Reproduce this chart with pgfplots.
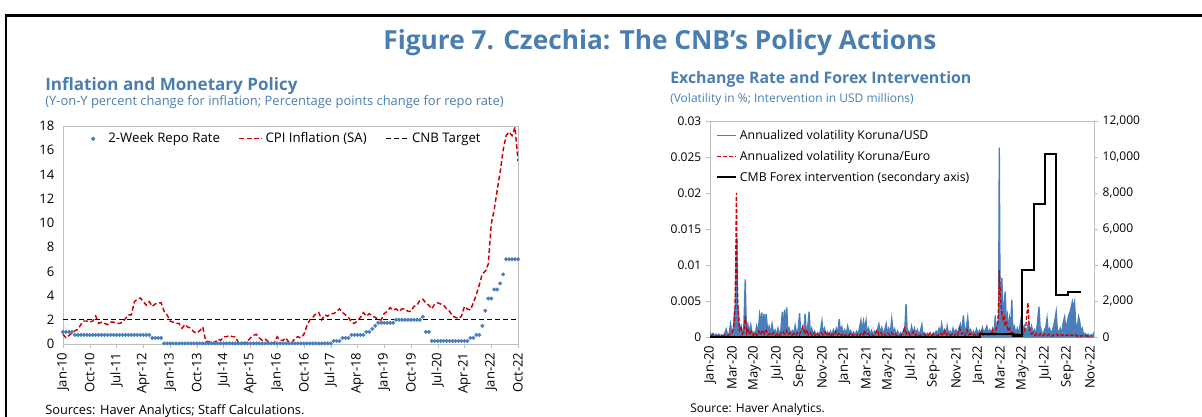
\documentclass[border=0pt]{standalone}
\usepackage{fontspec}
\setmainfont{Open Sans}
\usepackage{pgfplots}
\usepackage{pgfplotstable}
\pgfplotsset{compat=1.18}
\definecolor{tblue}{RGB}{74,126,176}
\definecolor{sblue}{RGB}{74,126,187}
\definecolor{sred}{RGB}{204,0,0}
\definecolor{agray}{RGB}{191,191,191}

\pgfplotstableread[row sep=\\]{y\\
0.8\\0.5\\0.7\\0.9\\1.1\\1.2\\1.6\\1.9\\1.9\\1.8\\1.9\\2.3\\
1.7\\1.8\\1.7\\1.6\\1.8\\1.8\\1.7\\1.7\\1.8\\2.1\\2.4\\2.4\\
3.5\\3.7\\3.8\\3.5\\3.2\\3.5\\3.1\\3.3\\3.4\\3.4\\2.7\\2.4\\
1.9\\1.8\\1.7\\1.7\\1.3\\1.6\\1.4\\1.3\\1.0\\0.9\\1.1\\1.4\\
0.2\\0.2\\0.2\\0.1\\0.4\\0.3\\0.6\\0.6\\0.7\\0.6\\0.6\\0.1\\
0.1\\0.1\\0.2\\0.5\\0.7\\0.8\\0.5\\0.3\\0.4\\0.2\\0.1\\0.1\\
0.6\\0.3\\0.3\\0.5\\0.1\\0.1\\0.5\\0.6\\0.5\\0.8\\1.5\\2.0\\
2.2\\2.5\\2.6\\2.0\\2.4\\2.3\\2.5\\2.5\\2.7\\2.9\\2.6\\2.4\\
2.2\\1.8\\1.7\\1.9\\2.2\\2.6\\2.3\\2.5\\2.3\\2.2\\2.0\\2.0\\
2.5\\2.7\\3.0\\2.8\\2.9\\2.7\\2.9\\2.9\\2.7\\2.7\\3.1\\3.2\\
3.6\\3.7\\3.4\\3.2\\2.9\\3.3\\3.4\\3.3\\3.2\\2.9\\2.7\\2.3\\
2.2\\2.1\\2.3\\3.1\\2.9\\2.8\\3.4\\4.1\\4.9\\5.8\\6.0\\6.6\\
9.9\\11.1\\12.7\\14.2\\16.0\\17.2\\17.5\\17.2\\17.9\\15.1\\
}\cpidata

\pgfplotstableread[row sep=\\]{y\\
1\\1\\1\\1\\0.75\\0.75\\0.75\\0.75\\0.75\\0.75\\0.75\\0.75\\
0.75\\0.75\\0.75\\0.75\\0.75\\0.75\\0.75\\0.75\\0.75\\0.75\\0.75\\0.75\\
0.75\\0.75\\0.75\\0.75\\0.75\\0.75\\0.5\\0.5\\0.5\\0.5\\0.05\\0.05\\
0.05\\0.05\\0.05\\0.05\\0.05\\0.05\\0.05\\0.05\\0.05\\0.05\\0.05\\0.05\\
0.05\\0.05\\0.05\\0.05\\0.05\\0.05\\0.05\\0.05\\0.05\\0.05\\0.05\\0.05\\
0.05\\0.05\\0.05\\0.05\\0.05\\0.05\\0.05\\0.05\\0.05\\0.05\\0.05\\0.05\\
0.05\\0.05\\0.05\\0.05\\0.05\\0.05\\0.05\\0.05\\0.05\\0.05\\0.05\\0.05\\
0.05\\0.05\\0.05\\0.05\\0.05\\0.05\\0.05\\0.25\\0.25\\0.25\\0.5\\0.5\\
0.5\\0.75\\0.75\\0.75\\0.75\\0.75\\1.0\\1.0\\1.25\\1.5\\1.75\\1.75\\
1.75\\1.75\\1.75\\1.75\\2.0\\2.0\\2.0\\2.0\\2.0\\2.0\\2.0\\2.0\\
2.0\\2.25\\1.0\\1.0\\0.25\\0.25\\0.25\\0.25\\0.25\\0.25\\0.25\\0.25\\
0.25\\0.25\\0.25\\0.25\\0.25\\0.5\\0.5\\0.75\\0.75\\1.5\\2.75\\3.75\\
3.75\\4.5\\4.5\\5.0\\5.75\\7\\7\\7\\7\\7\\
}\repodata

\begin{document}
\begin{tikzpicture}
\useasboundingbox (0,0) rectangle (901.5pt,-312.75pt);
% frame
\draw[line width=1.8pt] (3.9pt,-11.6pt) -- (905pt,-11.6pt);
\draw[line width=1.8pt] (4.3pt,-11.6pt) -- (4.3pt,-320pt);
% main title
\node[anchor=base, text=tblue, font=\fontsize{19.7}{23}\selectfont\bfseries] at (495pt,-37.5pt) {Figure 7. Czechia: The CNB’s Policy Actions};
% left titles
\node[anchor=base west, inner sep=0pt, text=tblue, font=\fontsize{12.8}{15}\selectfont\bfseries] at (33.75pt,-68.25pt) {Inflation and Monetary Policy};
\node[anchor=base west, inner sep=0pt, text=tblue, font=\fontsize{9.7}{11}\selectfont] at (33.75pt,-79.5pt) {(Y-on-Y percent change for inflation; Percentage points change for repo rate)};
% right titles
\node[anchor=base west, inner sep=0pt, text=tblue, font=\fontsize{11.9}{14}\selectfont\bfseries] at (502.5pt,-63pt) {Exchange Rate and Forex Intervention};
\node[anchor=base west, inner sep=0pt, text=tblue, font=\fontsize{9}{11}\selectfont] at (502.5pt,-77.25pt) {(Volatility in \%; Intervention in USD millions)};
% sources
\node[anchor=base west, inner sep=0pt, font=\fontsize{9.6}{11}\selectfont] at (33.75pt,-310.5pt) {Sources: Haver Analytics; Staff Calculations.};
\node[anchor=base west, inner sep=0pt, font=\fontsize{9}{11}\selectfont] at (517.5pt,-309pt) {Source: Haver Analytics.};

% ---------------- left chart
\begin{axis}[
  at={(47.25pt,-258pt)}, anchor=south west, scale only axis,
  width=341.25pt, height=163.5pt,
  xmin=0, xmax=153, ymin=0, ymax=18,
  ytick={0,2,4,6,8,10,12,14,16,18},
  xtick={0,9,18,27,36,45,54,63,72,81,90,99,108,117,126,135,144,153},
  xticklabels={Jan-10,Oct-10,Jul-11,Apr-12,Jan-13,Oct-13,Jul-14,Apr-15,Jan-16,Oct-16,Jul-17,Apr-18,Jan-19,Oct-19,Jul-20,Apr-21,Jan-22,Oct-22},
  x tick label style={rotate=90, anchor=east, font=\fontsize{9.8}{11}\selectfont},
  y tick label style={font=\fontsize{9.8}{11}\selectfont},
  /pgf/number format/assume math mode=true,
  axis line style={agray}, tick style={agray}, tick align=outside,
  xtick pos=left, ytick pos=left, ytick style={draw=none}, major tick length=3pt,
  legend style={at={(0.49,0.995)}, anchor=north, draw=none, fill=none,
    font=\fontsize{9.9}{12}\selectfont,
    /tikz/every even column/.append style={column sep=12pt}},
  legend columns=3, legend cell align=left,
]
\addplot[only marks, mark=*, mark size=1.3pt, sblue,
  legend image code/.code={\path[draw=none, fill=none] (0cm,-0.05cm) rectangle (0.45cm,0.05cm); \fill[sblue] (0.12cm,0cm) circle (1.4pt);}] table[x expr=\coordindex, y=y] {\repodata};
\addlegendentry{2-Week Repo Rate}
\addplot[sred, line width=1.1pt, dash pattern=on 3.5pt off 2pt] table[x expr=\coordindex, y=y] {\cpidata};
\addlegendentry{CPI Inflation (SA)}
\addplot[black, line width=1.0pt, dash pattern=on 4pt off 2pt] coordinates {(0,2) (153,2)};
\addlegendentry{CNB Target}
\end{axis}

% ---------------- right chart
\begin{axis}[
  at={(532.5pt,-252.75pt)}, anchor=south west, scale only axis,
  width=288pt, height=162pt,
  xmin=0, xmax=1046, ymin=0, ymax=0.03,
  ytick={0,0.005,0.01,0.015,0.02,0.025,0.03},
  scaled y ticks=false,
  yticklabel style={/pgf/number format/fixed, /pgf/number format/precision=3},
  xtick={0,60,121,182,244,305,366,425,486,547,609,670,731,790,851,912,974,1035},
  xticklabels={Jan-20,Mar-20,May-20,Jul-20,Sep-20,Nov-20,Jan-21,Mar-21,May-21,Jul-21,Sep-21,Nov-21,Jan-22,Mar-22,May-22,Jul-22,Sep-22,Nov-22},
  x tick label style={rotate=90, anchor=east, font=\fontsize{9.8}{11}\selectfont},
  y tick label style={font=\fontsize{9}{11}\selectfont},
  /pgf/number format/assume math mode=true,
  axis line style={agray}, tick style={agray}, tick align=outside,
  xtick pos=left, ytick pos=left, xtick style={draw=none}, major tick length=3pt,
  legend image code/.code={\draw[#1] (0cm,0cm) -- (0.5cm,0cm);},
  legend style={at={(0.005,0.985)}, anchor=north west, draw=none, fill=none,
    font=\fontsize{9.2}{11}\selectfont, row sep=3.2pt},
  legend cell align=left,
]
\addplot[sblue, line width=1.0pt, fill=sblue,
  legend image code/.code={\draw[sblue, line width=1pt] (0cm,0cm) -- (0.5cm,0cm);}] coordinates {
(0,0.0006) (4,0.0002) (8,0.0005) (12,0.0002) (16,0.0004) (20,0.0001) (24,0.0004) (28,0.0002) (32,0.0003) (36,0.0001)
(40,0.0005) (44,0.0011) (48,0.0003) (52,0.0005) (56,0.0018) (60,0.0004) (64,0.0012) (67,0.0040) (69,0.0030) (71,0.0100)
(73,0.0138) (75,0.0045) (77,0.0040) (79,0.0020) (82,0.0010) (85,0.0015) (88,0.0005) (92,0.0012) (96,0.0080) (99,0.0010)
(103,0.0018) (107,0.0006) (111,0.0017) (115,0.0004) (119,0.0007) (123,0.0003) (127,0.0015) (131,0.0005) (135,0.0031) (138,0.0020)
(141,0.0034) (144,0.0012) (147,0.0032) (150,0.0018) (153,0.0032) (157,0.0008) (161,0.0015) (165,0.0004) (169,0.0018) (173,0.0006)
(177,0.0010) (181,0.0003) (185,0.0012) (189,0.0004) (193,0.0010) (197,0.0035) (200,0.0010) (203,0.0038) (206,0.0015) (209,0.0041)
(212,0.0008) (216,0.0012) (220,0.0003) (224,0.0009) (228,0.0005) (232,0.0016) (236,0.0004) (240,0.0011) (244,0.0033) (247,0.0006)
(251,0.0010) (255,0.0003) (259,0.0032) (262,0.0008) (266,0.0014) (270,0.0035) (273,0.0006) (277,0.0012) (281,0.0004) (285,0.0008)
(289,0.0002) (293,0.0006) (297,0.0003) (301,0.0009) (305,0.0022) (308,0.0005) (312,0.0012) (316,0.0003) (320,0.0007) (324,0.0002)
(328,0.0008) (332,0.0003) (336,0.0010) (340,0.0004) (344,0.0012) (348,0.0006) (352,0.0025) (355,0.0008) (359,0.0014) (363,0.0004)
(367,0.0010) (371,0.0003) (375,0.0015) (379,0.0006) (383,0.0009) (387,0.0003) (391,0.0007) (395,0.0002) (399,0.0008) (403,0.0004)
(407,0.0012) (411,0.0023) (414,0.0009) (418,0.0022) (421,0.0010) (425,0.0023) (428,0.0006) (432,0.0012) (436,0.0004) (440,0.0009)
(444,0.0003) (448,0.0008) (452,0.0004) (456,0.0010) (460,0.0018) (464,0.0005) (468,0.0013) (472,0.0004) (476,0.0010) (480,0.0018)
(483,0.0006) (487,0.0012) (491,0.0004) (495,0.0025) (499,0.0006) (503,0.0011) (507,0.0003) (511,0.0008) (515,0.0002) (519,0.0006)
(523,0.0003) (527,0.0009) (531,0.0015) (534,0.0046) (537,0.0010) (541,0.0008) (545,0.0003) (549,0.0015) (553,0.0005) (557,0.0012)
(561,0.0004) (565,0.0010) (569,0.0003) (573,0.0008) (577,0.0017) (580,0.0004) (584,0.0006) (588,0.0002) (592,0.0005) (596,0.0001)
(600,0.0004) (604,0.0002) (608,0.0006) (612,0.0003) (616,0.0008) (620,0.0004) (624,0.0012) (628,0.0006) (631,0.0018) (635,0.0005)
(639,0.0010) (643,0.0003) (646,0.0015) (650,0.0004) (654,0.0008) (658,0.0003) (662,0.0012) (666,0.0005) (670,0.0010) (674,0.0004)
(678,0.0012) (682,0.0018) (686,0.0006) (690,0.0030) (694,0.0008) (698,0.0012) (702,0.0027) (706,0.0006) (710,0.0010) (714,0.0003)
(718,0.0008) (722,0.0004) (726,0.0011) (730,0.0005) (734,0.0009) (738,0.0004) (742,0.0013) (746,0.0006) (750,0.0010) (754,0.0015)
(758,0.0005) (762,0.0010) (766,0.0004) (770,0.0012) (774,0.0006) (777,0.0030) (780,0.0010) (784,0.0018) (786,0.0012) (788,0.0263)
(790,0.0060) (792,0.0030) (795,0.0082) (798,0.0030) (801,0.0045) (804,0.0063) (807,0.0020) (810,0.0030) (813,0.0012) (816,0.0025)
(819,0.0008) (822,0.0052) (825,0.0010) (829,0.0015) (833,0.0005) (837,0.0012) (841,0.0004) (845,0.0018) (849,0.0031) (852,0.0008)
(856,0.0015) (860,0.0005) (864,0.0012) (868,0.0020) (872,0.0006) (876,0.0015) (880,0.0005) (884,0.0010) (888,0.0003) (892,0.0020)
(896,0.0042) (899,0.0015) (903,0.0008) (907,0.0003) (911,0.0010) (915,0.0014) (918,0.0026) (921,0.0008) (925,0.0012) (929,0.0004)
(933,0.0010) (937,0.0018) (940,0.0025) (943,0.0035) (946,0.0010) (950,0.0006) (954,0.0012) (958,0.0004) (962,0.0020) (966,0.0028)
(969,0.0012) (973,0.0020) (977,0.0030) (981,0.0035) (984,0.0042) (987,0.0049) (990,0.0040) (993,0.0048) (996,0.0020) (1000,0.0010)
(1004,0.0028) (1007,0.0022) (1010,0.0008) (1014,0.0012) (1018,0.0003) (1022,0.0005) (1026,0.0002) (1030,0.0004) (1034,0.0001) (1038,0.0003)
(1042,0.0002) (1044,0.0004)
} \closedcycle;
\addlegendentry{Annualized volatility Koruna/USD}
\addplot[sred, line width=1.0pt, dash pattern=on 3pt off 1.5pt] coordinates {
(0,0.0001) (8,0.0003) (16,0.0001) (24,0.0002) (32,0.0001) (40,0.0003) (48,0.0002) (56,0.0004) (62,0.0008) (66,0.0020)
(68,0.0040) (70,0.0100) (72,0.0200) (74,0.0080) (76,0.0042) (78,0.0030) (80,0.0010) (84,0.0015) (88,0.0004) (92,0.0008)
(96,0.0029) (100,0.0006) (104,0.0012) (108,0.0003) (113,0.0008) (118,0.0002) (123,0.0006) (128,0.0002) (133,0.0008) (138,0.0003)
(143,0.0010) (148,0.0004) (153,0.0009) (158,0.0003) (163,0.0005) (168,0.0002) (173,0.0006) (178,0.0002) (183,0.0004) (188,0.0001)
(193,0.0005) (198,0.0008) (203,0.0004) (208,0.0009) (213,0.0003) (218,0.0006) (223,0.0002) (228,0.0005) (233,0.0002) (238,0.0006)
(243,0.0003) (248,0.0008) (253,0.0015) (258,0.0004) (263,0.0010) (268,0.0003) (273,0.0006) (278,0.0002) (283,0.0005) (288,0.0001)
(293,0.0004) (298,0.0002) (303,0.0006) (308,0.0003) (313,0.0007) (318,0.0002) (323,0.0005) (328,0.0001) (333,0.0004) (338,0.0002)
(343,0.0008) (348,0.0003) (353,0.0006) (358,0.0002) (363,0.0005) (368,0.0001) (373,0.0004) (378,0.0002) (383,0.0006) (388,0.0002)
(393,0.0004) (398,0.0001) (403,0.0005) (408,0.0002) (413,0.0006) (418,0.0003) (420,0.0009) (425,0.0003) (430,0.0005) (435,0.0002)
(440,0.0004) (445,0.0001) (450,0.0005) (455,0.0010) (460,0.0003) (465,0.0006) (470,0.0002) (475,0.0004) (480,0.0001) (485,0.0005)
(490,0.0002) (495,0.0006) (500,0.0002) (505,0.0004) (510,0.0001) (515,0.0003) (520,0.0002) (525,0.0005) (530,0.0012) (535,0.0004)
(540,0.0006) (545,0.0002) (550,0.0004) (555,0.0008) (560,0.0002) (565,0.0004) (570,0.0001) (575,0.0003) (580,0.0002) (585,0.0004)
(590,0.0001) (595,0.0003) (600,0.0006) (605,0.0002) (610,0.0004) (615,0.0001) (620,0.0003) (625,0.0002) (630,0.0005) (635,0.0002)
(640,0.0009) (645,0.0003) (650,0.0005) (655,0.0002) (660,0.0004) (665,0.0001) (670,0.0005) (675,0.0003) (680,0.0012) (685,0.0004)
(690,0.0006) (695,0.0002) (700,0.0010) (705,0.0003) (710,0.0005) (715,0.0002) (720,0.0004) (725,0.0001) (730,0.0004) (735,0.0002)
(740,0.0008) (745,0.0003) (750,0.0005) (755,0.0002) (760,0.0004) (765,0.0003) (770,0.0010) (775,0.0004) (780,0.0012) (784,0.0020)
(786,0.0040) (788,0.0093) (790,0.0070) (792,0.0050) (795,0.0035) (798,0.0025) (801,0.0030) (804,0.0015) (808,0.0020) (812,0.0008)
(816,0.0012) (820,0.0005) (825,0.0008) (830,0.0003) (835,0.0006) (840,0.0002) (845,0.0004) (850,0.0002) (855,0.0006) (860,0.0015)
(863,0.0030) (866,0.0048) (869,0.0020) (872,0.0008) (876,0.0004) (880,0.0006) (885,0.0002) (890,0.0005) (895,0.0002) (900,0.0004)
(905,0.0001) (910,0.0003) (915,0.0005) (920,0.0002) (925,0.0004) (930,0.0001) (935,0.0003) (940,0.0002) (945,0.0004) (950,0.0001)
(955,0.0003) (960,0.0002) (965,0.0004) (970,0.0002) (975,0.0003) (980,0.0001) (985,0.0003) (990,0.0002) (995,0.0004) (1000,0.0001)
(1005,0.0003) (1010,0.0001) (1015,0.0002) (1020,0.0001) (1025,0.0002) (1030,0.0001) (1035,0.0002) (1040,0.0001)
};
\addlegendentry{Annualized volatility Koruna/Euro}
\addlegendimage{black, line width=1.6pt}
\addlegendentry{CMB Forex intervention (secondary axis)}
\end{axis}
\begin{axis}[
  at={(532.5pt,-252.75pt)}, anchor=south west, scale only axis,
  width=288pt, height=162pt,
  xmin=0, xmax=1046, ymin=0, ymax=12000,
  axis x line=none, axis y line*=right,
  ytick={0,2000,4000,6000,8000,10000,12000},
  scaled y ticks=false,
  yticklabel style={/pgf/number format/1000 sep={,}, font=\fontsize{9}{11}\selectfont},
  /pgf/number format/assume math mode=true,
  axis line style={agray}, tick style={agray}, tick align=outside, major tick length=3pt,
]
\addplot[black, line width=1.6pt, const plot] coordinates {
(0,0) (736,150) (826,80) (851,3700) (882,7400) (912,10150) (943,2350) (974,2500) (1011,2500)
};
\end{axis}
\end{tikzpicture}
\end{document}
